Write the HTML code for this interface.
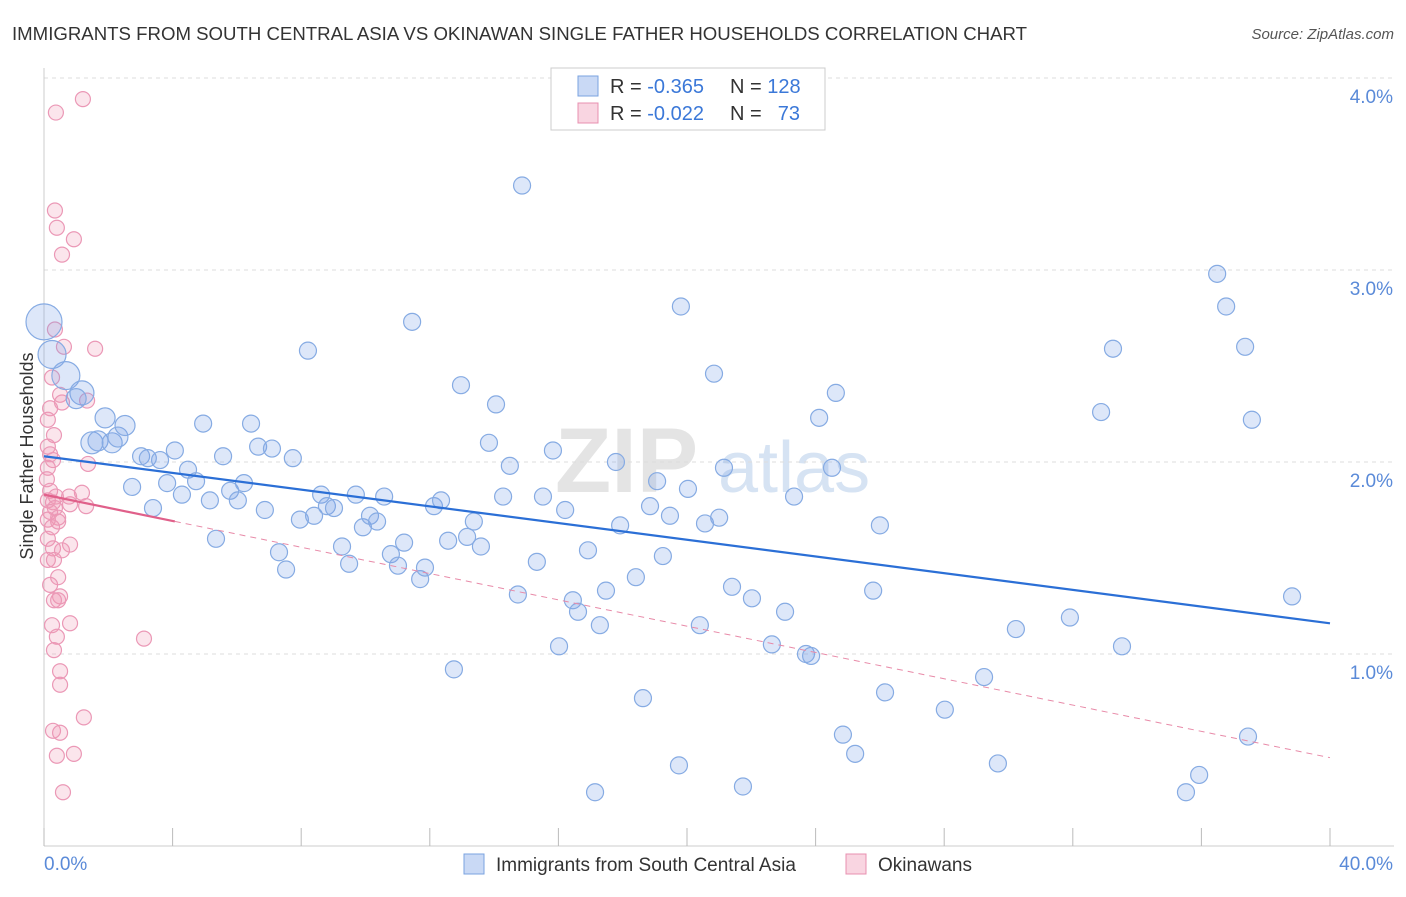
<!DOCTYPE html>
<html><head><meta charset="utf-8">
<style>
body{margin:0;background:#fff;font-family:"Liberation Sans",sans-serif;}
svg text{font-family:"Liberation Sans",sans-serif;}
</style></head>
<body>
<svg id="chart" width="1406" height="892" xmlns="http://www.w3.org/2000/svg">
<text x="12" y="40" font-size="18" fill="#333" textLength="1015" lengthAdjust="spacingAndGlyphs">IMMIGRANTS FROM SOUTH CENTRAL ASIA VS OKINAWAN SINGLE FATHER HOUSEHOLDS CORRELATION CHART</text>
<text x="1394" y="39" font-size="15" fill="#555" font-style="italic" text-anchor="end">Source: ZipAtlas.com</text>
<g>
<text x="555" y="492" font-size="92" fill="#e4e4e4" font-family="Liberation Serif" font-weight="bold">ZIP</text>
<text x="718" y="492" font-size="72" fill="#d6e3f3">atlas</text>
</g>
<g id="grid"></g>
<g id="axes"></g>
<g id="pts"></g>
<g id="trends"></g>
<text transform="translate(33,456) rotate(-90)" font-size="18" fill="#333" text-anchor="middle">Single Father Households</text>
<g>
<rect x="551" y="68" width="274" height="62" fill="#fff" stroke="#ccc"/>
<g>
<rect x="578" y="76" width="20" height="20" fill="rgba(120,160,230,0.4)" stroke="#7aa3e0"/>
<text x="610" y="93" font-size="20" fill="#333">R = <tspan fill="#3b78d8">-0.365</tspan></text>
<text x="730" y="93" font-size="20" fill="#333">N = <tspan fill="#3b78d8">128</tspan></text>
</g>
<g>
<rect x="578" y="103" width="20" height="20" fill="rgba(240,150,180,0.4)" stroke="#e890b0"/>
<text x="610" y="120" font-size="20" fill="#333">R = <tspan fill="#3b78d8">-0.022</tspan></text>
<text x="730" y="120" font-size="20" fill="#333">N = </text>
<text x="800" y="120" font-size="20" fill="#3b78d8" text-anchor="end">73</text>
</g>
</g>
<g>
<g>
<rect x="464" y="854" width="20" height="20" fill="rgba(120,160,230,0.4)" stroke="#7aa3e0"/>
<text x="496" y="871" font-size="19" fill="#333">Immigrants from South Central Asia</text>
</g>
<g>
<rect x="846" y="854" width="20" height="20" fill="rgba(240,150,180,0.4)" stroke="#e890b0"/>
<text x="878" y="871" font-size="19" fill="#333">Okinawans</text>
</g>
</g>
</svg>
<script>
const blueX=[0.00,0.25,0.68,1.18,1.00,1.90,1.49,1.68,2.12,2.30,2.52,2.74,3.02,3.23,3.39,3.61,3.83,4.07,4.29,4.48,4.73,4.95,5.16,5.35,5.57,5.79,6.03,6.22,6.44,6.66,6.87,7.09,7.31,7.53,7.74,7.96,8.21,8.40,8.62,8.80,9.02,9.27,9.49,9.70,9.92,10.14,10.36,10.58,10.79,11.01,11.20,11.45,11.70,11.85,12.13,12.35,12.57,12.75,12.97,13.16,13.37,13.59,13.84,14.06,14.28,14.49,14.74,14.87,15.33,15.52,15.83,16.02,16.21,16.45,16.61,16.92,17.14,17.29,17.48,17.79,17.92,18.41,18.63,18.85,19.07,19.25,19.47,19.75,19.81,20.03,20.40,20.56,20.84,21.00,21.15,21.40,21.74,22.02,22.64,23.05,23.33,23.70,23.86,24.11,24.51,24.63,24.85,25.23,25.79,26.00,26.16,28.02,29.24,29.67,30.23,31.91,32.88,33.25,33.53,35.52,35.93,36.49,36.77,37.36,37.45,37.57,38.82];
const blueY=[2.73,2.56,2.45,2.36,2.33,2.23,2.10,2.11,2.10,2.13,2.19,1.87,2.03,2.02,1.76,2.01,1.89,2.06,1.83,1.96,1.90,2.20,1.80,1.60,2.03,1.85,1.80,1.89,2.20,2.08,1.75,2.07,1.53,1.44,2.02,1.70,2.58,1.72,1.83,1.77,1.76,1.56,1.47,1.83,1.66,1.72,1.69,1.82,1.52,1.46,1.58,2.73,1.39,1.45,1.77,1.80,1.59,0.92,2.40,1.61,1.69,1.56,2.10,2.30,1.82,1.98,1.31,3.44,1.48,1.82,2.06,1.04,1.75,1.28,1.22,1.54,0.28,1.15,1.33,2.00,1.67,1.40,0.77,1.77,1.90,1.51,1.72,0.42,2.81,1.86,1.15,1.68,2.46,1.71,1.97,1.35,0.31,1.29,1.05,1.22,1.82,1.00,0.99,2.23,1.97,2.36,0.58,0.48,1.33,1.67,0.80,0.71,0.88,0.43,1.13,1.19,2.26,2.59,1.04,0.28,0.37,2.98,2.81,2.60,0.57,2.22,1.30];
const blueR=[18,14,14,12,10,10,11,10,10,10,10];
const pinkX=[0.37,1.21,0.34,0.40,0.93,0.56,0.34,0.62,1.59,0.25,0.50,1.34,0.56,0.19,0.12,0.31,0.12,0.19,0.28,1.37,0.12,0.09,0.19,1.18,0.78,0.37,0.12,0.28,1.31,0.81,0.34,0.19,0.44,0.12,0.44,0.25,0.12,0.28,0.81,0.56,0.12,0.31,0.44,0.19,0.50,0.31,0.44,0.81,0.25,0.40,3.11,0.31,0.50,0.50,1.24,0.28,0.50,0.93,0.40,0.59];
const pinkY=[3.82,3.89,3.31,3.22,3.16,3.08,2.69,2.60,2.59,2.44,2.35,2.32,2.31,2.28,2.22,2.14,2.08,2.04,2.01,1.99,1.97,1.91,1.85,1.84,1.82,1.82,1.80,1.79,1.77,1.78,1.76,1.74,1.71,1.70,1.69,1.66,1.60,1.55,1.57,1.54,1.49,1.49,1.40,1.36,1.30,1.28,1.28,1.16,1.15,1.09,1.08,1.02,0.91,0.84,0.67,0.60,0.59,0.48,0.47,0.28];
const blueTrend=[2.03,1.16];
const pinkTrend=[1.83,0.46];
const pinkSolidEnd=4.07;
const yTicks=[1,2,3,4];
const yTickLabels=["1.0%","2.0%","3.0%","4.0%"];
const xTicks=[0,4,8,12,16,20,24,28,32,36,40];

const NS="http://www.w3.org/2000/svg";
const X0=44,X1=1330,Y0=846,PPU=192;
function sx(v){return X0+(v/40)*(X1-X0);}
function sy(v){return Y0-v*PPU;}
function mk(tag,attrs,parent){const e=document.createElementNS(NS,tag);for(const k in attrs)e.setAttribute(k,attrs[k]);parent.appendChild(e);return e;}
const grid=document.getElementById('grid'),axes=document.getElementById('axes'),pts=document.getElementById('pts'),tr=document.getElementById('trends');
yTicks.forEach((t,i)=>{
  const l=mk('line',{x1:X0,x2:1394,y1:sy(t),y2:sy(t),stroke:'#ddd','stroke-dasharray':'4,4'},grid);
  
  
  const tx=mk('text',{x:1393,y:sy(t)+25,'font-size':19,fill:'#5a8ad8','text-anchor':'end'},axes);
  tx.textContent=yTickLabels[i];
  
  
});
mk('line',{x1:X0,x2:X0,y1:68,y2:Y0,stroke:'#ccc'},axes);
mk('line',{x1:X0,x2:1394,y1:Y0,y2:Y0,stroke:'#ccc'},axes);
xTicks.forEach(t=>{
  const l=mk('line',{x1:sx(t),x2:sx(t),y1:828,y2:Y0,stroke:'#bbb'},axes);
  
  
});
const xl=mk('text',{x:44,y:870,'font-size':19,fill:'#5a8ad8'},axes);xl.textContent='0.0%';


const xr=mk('text',{x:1393,y:870,'font-size':19,fill:'#5a8ad8','text-anchor':'end'},axes);xr.textContent='40.0%';


pinkX.forEach((x,i)=>{
  const c=mk('circle',{cx:sx(x),cy:sy(pinkY[i]),r:7.5,fill:'rgba(240,150,180,0.25)',stroke:'#eb98b6','stroke-width':1.2},pts);
  
  
});
blueX.forEach((x,i)=>{
  const c=mk('circle',{cx:sx(x),cy:sy(blueY[i]),r:blueR[i]||8.5,fill:'rgba(120,160,230,0.25)',stroke:'#86abe3','stroke-width':1.2},pts);
  
  
});
const bl=mk('line',{x1:sx(0),y1:sy(blueTrend[0]),x2:sx(40),y2:sy(blueTrend[1]),stroke:'#2b6fd6','stroke-width':2.2},tr);


const pAt=x=>pinkTrend[0]+(pinkTrend[1]-pinkTrend[0])*x/40;
const pd=mk('line',{x1:sx(pinkSolidEnd),y1:sy(pAt(pinkSolidEnd)),x2:sx(40),y2:sy(pinkTrend[1]),stroke:'#e88aa8','stroke-width':1,'stroke-dasharray':'6,5'},tr);


const ps=mk('line',{x1:sx(0),y1:sy(pinkTrend[0]),x2:sx(pinkSolidEnd),y2:sy(pAt(pinkSolidEnd)),stroke:'#e0608a','stroke-width':2.2},tr);


</script>
</body></html>
